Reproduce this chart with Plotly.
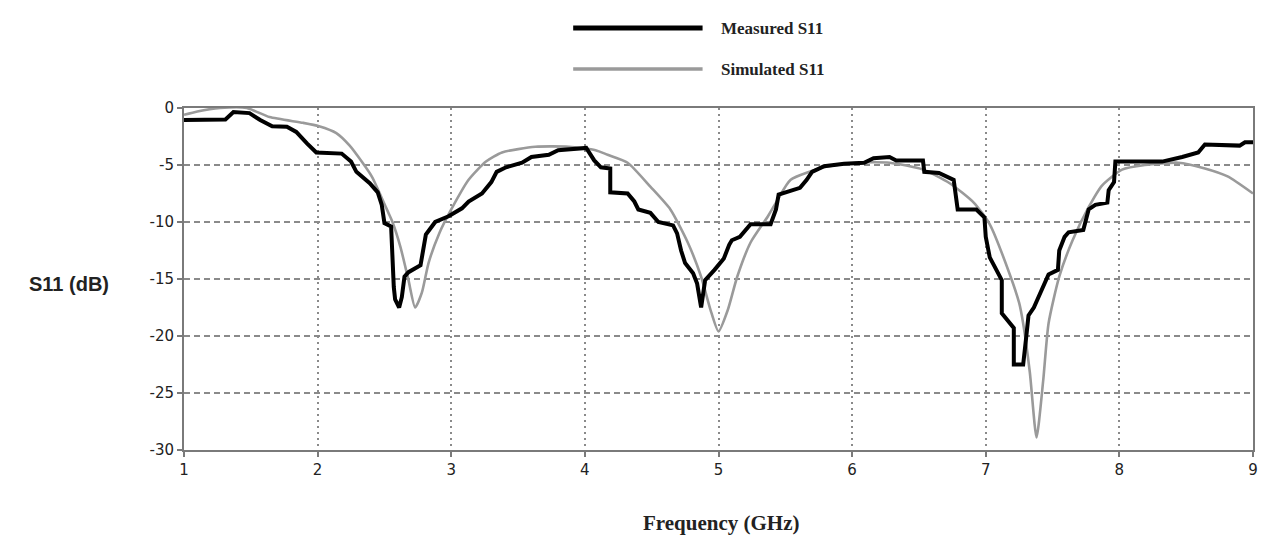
import plotly.graph_objects as go

# ---- data ----
meas_f = [1.00, 1.31, 1.37, 1.49, 1.57, 1.66, 1.77, 1.84, 1.92, 1.99, 2.18, 2.25, 2.29, 2.39, 2.45, 2.48,
          2.50, 2.55, 2.57, 2.58, 2.61, 2.63, 2.65, 2.68, 2.77, 2.80, 2.81, 2.88, 2.98, 3.08, 3.13, 3.23,
          3.30, 3.34, 3.41, 3.53, 3.60, 3.73, 3.80, 4.01, 4.07, 4.12, 4.19, 4.19, 4.32, 4.37, 4.40, 4.49,
          4.55, 4.66, 4.69, 4.72, 4.75, 4.81, 4.84, 4.87, 4.89, 4.90, 4.97, 5.04, 5.08, 5.10, 5.16, 5.22,
          5.24, 5.39, 5.43, 5.45, 5.51, 5.61, 5.66, 5.70, 5.79, 5.94, 6.09, 6.16, 6.28, 6.33, 6.53, 6.54,
          6.65, 6.76, 6.79, 6.93, 6.99, 7.00, 7.03, 7.08, 7.12, 7.12, 7.18, 7.21, 7.21, 7.28, 7.30, 7.32,
          7.36, 7.40, 7.44, 7.47, 7.54, 7.55, 7.59, 7.62, 7.73, 7.77, 7.82, 7.91, 7.92, 7.96, 7.97, 8.32,
          8.47, 8.59, 8.64, 8.90, 8.94, 9.00]
meas_db = [-1.05, -1.0, -0.35, -0.45, -1.05, -1.6, -1.65, -2.1, -3.1, -3.9, -4.0, -4.7, -5.6, -6.6, -7.4, -8.5,
           -10.1, -10.4, -15.7, -16.8, -17.5, -16.6, -14.8, -14.4, -13.8, -12.0, -11.1, -10.0, -9.5, -8.8, -8.2, -7.5,
           -6.5, -5.6, -5.2, -4.8, -4.3, -4.1, -3.7, -3.5, -4.6, -5.2, -5.3, -7.4, -7.5, -8.2, -8.9, -9.2,
           -10.0, -10.3, -11.0, -12.5, -13.6, -14.5, -15.4, -17.5, -16.2, -15.1, -14.2, -13.2, -12.0, -11.6, -11.3, -10.4,
           -10.2, -10.2, -8.9, -7.6, -7.4, -7.0, -6.3, -5.6, -5.1, -4.9, -4.8, -4.4, -4.3, -4.6, -4.6, -5.6,
           -5.7, -6.3, -8.9, -8.9, -9.6, -11.3, -13.1, -14.2, -15.1, -18.0, -18.8, -19.3, -22.5, -22.5, -20.4, -18.2,
           -17.5, -16.5, -15.5, -14.6, -14.2, -12.5, -11.3, -10.9, -10.7, -8.9, -8.5, -8.3, -7.2, -6.5, -4.7, -4.7,
           -4.3, -3.9, -3.2, -3.3, -3.0, -3.0]

sim_f = [1.00, 1.10, 1.27, 1.47, 1.64, 1.89, 2.01, 2.14, 2.24, 2.33, 2.41, 2.48, 2.53, 2.56, 2.62, 2.68,
         2.73, 2.78, 2.83, 2.91, 3.00, 3.13, 3.26, 3.38, 3.63, 3.88, 4.08, 4.17, 4.32, 4.49, 4.64, 4.77,
         4.87, 4.94, 5.00, 5.07, 5.14, 5.24, 5.37, 5.44, 5.54, 5.79, 6.04, 6.28, 6.53, 6.73, 6.91, 7.03,
         7.18, 7.25, 7.28, 7.33, 7.38, 7.43, 7.47, 7.55, 7.65, 7.77, 7.87, 8.02, 8.19, 8.44, 8.64, 8.81, 9.00]
sim_db = [-0.6, -0.3, 0.0, 0.0, -0.8, -1.3, -1.6, -2.2, -3.3, -4.7, -6.1, -7.9, -9.2, -10.0, -12.2, -15.1,
          -17.5, -16.2, -13.6, -11.0, -8.9, -6.3, -4.7, -3.9, -3.4, -3.4, -3.7, -4.1, -4.8, -6.9, -8.9, -11.8,
          -14.8, -17.7, -19.6, -17.7, -14.8, -11.8, -9.5, -8.1, -6.3, -5.2, -4.8, -4.8, -5.4, -6.6, -8.3, -10.2,
          -14.6, -17.1, -18.9, -23.2, -28.9, -23.9, -18.9, -14.8, -11.6, -8.7, -6.8, -5.4, -5.0, -4.8, -5.3, -6.0, -7.5]

x_ticks = [1, 2, 3, 4, 5, 6, 7, 8, 9]
y_ticks = [0, -5, -10, -15, -20, -25, -30]
series_names = ["Measured S11", "Simulated S11"]
series_colors = ["#000000", "#9a9a9a"]

# ---- layout geometry (pixels) ----
W, H = 1267, 541
L, R, T, B = 184, 9, 108, 91
pw, ph = W - L - R, H - T - B


def px_x(p):
    return (p - L) / pw


def px_y(p):
    return (H - B - p) / ph


fig = go.Figure()
fig.add_trace(go.Scatter(x=sim_f, y=sim_db, mode="lines", name=series_names[1],
                         line=dict(color=series_colors[1], width=2.6, shape="spline", smoothing=0.6),
                         showlegend=False))
fig.add_trace(go.Scatter(x=meas_f, y=meas_db, mode="lines", name=series_names[0],
                         line=dict(color=series_colors[0], width=4), showlegend=False))

axis_common = dict(showline=True, linecolor="#7a7a7a", linewidth=2, mirror=True,
                   gridcolor="#8a8a8a", gridwidth=2, zeroline=False,
                   ticks="outside", ticklen=5, tickcolor="#7a7a7a", tickwidth=2,
                   tickfont=dict(family="DejaVu Sans", size=15, color="#222222"))

fig.update_xaxes(range=[1, 9], tickvals=x_ticks, ticktext=[str(v) for v in x_ticks],
                 griddash="2px,4px", **axis_common)
fig.update_yaxes(range=[-30, 0], tickvals=y_ticks, ticktext=[str(v) for v in y_ticks],
                 griddash="6px,4px", **axis_common)

# custom legend (long line samples as in reference)
shapes = []
annotations = []
legend_rows = [(28, 0), (69, 1)]
for py, i in legend_rows:
    shapes.append(dict(type="line", xref="paper", yref="paper",
                       x0=px_x(575), x1=px_x(705), y0=px_y(py), y1=px_y(py),
                       line=dict(color=series_colors[i], width=5 if i == 0 else 3.5)))
    annotations.append(dict(text="<b>" + series_names[i] + "</b>", xref="paper", yref="paper",
                            x=px_x(722), y=px_y(py), xanchor="left", yanchor="middle",
                            showarrow=False,
                            font=dict(family="Liberation Serif", size=17, color="#222222")))

annotations.append(dict(text="<b>S11 (dB)</b>", xref="paper", yref="paper",
                        x=px_x(68), y=px_y(284), xanchor="center", yanchor="middle",
                        showarrow=False,
                        font=dict(family="Liberation Sans", size=20, color="#222222")))
annotations.append(dict(text="<b>Frequency (GHz)</b>", xref="paper", yref="paper",
                        x=px_x(724), y=px_y(523), xanchor="center", yanchor="middle",
                        showarrow=False,
                        font=dict(family="Liberation Serif", size=21, color="#222222")))

fig.update_layout(width=W, height=H, margin=dict(l=L, r=R, t=T, b=B),
                  plot_bgcolor="white", paper_bgcolor="white",
                  shapes=shapes, annotations=annotations, showlegend=False)

fig.write_html("out.html")
